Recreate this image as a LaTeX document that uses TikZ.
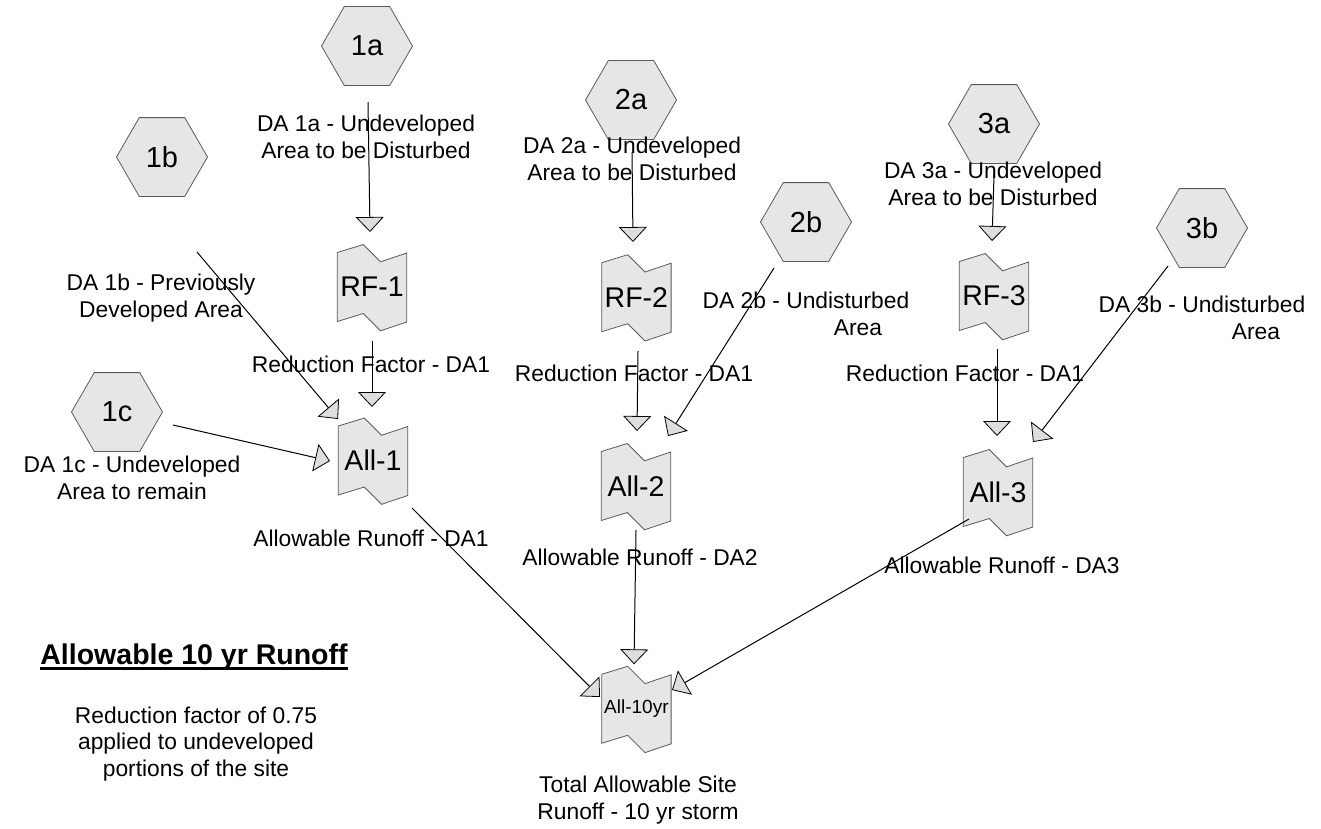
\documentclass[tikz,border=0pt]{standalone}
\usepackage{fontspec}
\setmainfont{Liberation Sans}
\usetikzlibrary{shapes.geometric,arrows.meta,calc}
\definecolor{shfill}{RGB}{230,230,230}
\definecolor{shline}{RGB}{90,90,90}
\definecolor{tipfill}{RGB}{222,222,222}
\tikzset{
 hex/.style={regular polygon, regular polygon sides=6, minimum size=91pt, inner sep=0pt, outer sep=0pt, draw=shline, fill=shfill, line width=0.8pt, font=\fontsize{29}{33}\selectfont},
 reachnode/.style={rectangle, minimum width=69.4pt, minimum height=69pt, inner sep=0pt, outer sep=0pt},
 reachshape/.style={draw=shline, fill=shfill, line width=0.8pt, line join=miter},
 bigtxt/.style={font=\fontsize{28.5}{32}\selectfont},
 smalltxt/.style={font=\fontsize{19}{22}\selectfont},
 lbl/.style={align=center, inner sep=0pt, font=\fontsize{22.8}{26.5}\selectfont},
 arr/.style={draw=black, line width=1pt, -{Triangle[length=15pt,width=28pt,fill=tipfill,line width=0.8pt]}},
}
\newcommand\reachat[5]{%
 \filldraw[reachshape,shift={(#2,#3)}] (-34.7,-34.5) -- (-8.7,-42.5) -- (8.6,-25.2) -- (34.7,-34) -- (34.7,35) -- (8.6,43.8) -- (-8.7,26.5) -- (-34.7,34.5) -- cycle;
 \node[reachnode,#4] (#1) at (#2,#3) {#5};
}
\begin{document}
\begin{tikzpicture}[x=1pt,y=-1pt]
\useasboundingbox (0,0) rectangle (1321,828);
% hexagons
\node[hex] (h1a) at (367,46) {1a};
\node[hex] (h1b) at (162,157) {1b};
\node[hex] (h1c) at (117,412) {1c};
\node[hex] (h2a) at (631,100) {2a};
\node[hex] (h2b) at (806,222) {2b};
\node[hex] (h3a) at (994,124) {3a};
\node[hex] (h3b) at (1202,228) {3b};
% reaches
\reachat{rf1}{372}{287}{bigtxt}{RF-1}
\reachat{all1}{373}{460.5}{bigtxt}{All-1}
\reachat{rf2}{636.4}{297.2}{bigtxt}{RF-2}
\reachat{all2}{636}{486}{bigtxt}{All-2}
\reachat{rf3}{994}{296}{bigtxt}{RF-3}
\reachat{all3}{998}{492}{bigtxt}{All-3}
\reachat{a10}{636.4}{708.8}{smalltxt}{All-10yr}
% labels
\node[lbl] (l1a) at (366,137) {DA 1a - Undeveloped\\Area to be Disturbed};
\node[lbl] (l1b) at (161,298) {DA 1b - Previously\\Developed Area};
\node[lbl] (l1c) at (132,478) {DA 1c - Undeveloped\\Area to remain};
\node[lbl] (lrf1) at (371,364) {Reduction Factor - DA1};
\node[lbl] (lall1) at (371,538) {Allowable Runoff - DA1};
\node[lbl] (l2a) at (632,159) {DA 2a - Undeveloped\\Area to be Disturbed};
\node[lbl] (l2b) at (806,314) {DA 2b - Undisturbed\\\hspace*{104pt}Area};
\node[lbl] (lrf2) at (634,373) {Reduction Factor - DA1};
\node[lbl] (lall2) at (640,557) {Allowable Runoff - DA2};
\node[lbl] (l3a) at (993,184) {DA 3a - Undeveloped\\Area to be Disturbed};
\node[lbl] (l3b) at (1202,318) {DA 3b - Undisturbed\\\hspace*{108pt}Area};
\node[lbl] (lrf3) at (965,373) {Reduction Factor - DA1};
\node[lbl] (lall3) at (1002,565) {Allowable Runoff - DA3};
\node[lbl] (l10) at (638,800) {Total Allowable Site\\Runoff - 10 yr storm};
\node[lbl] (note) at (196,744) {Reduction factor of 0.75\\applied to undeveloped\\portions of the site};
\node[inner sep=0pt,anchor=base,font=\bfseries\fontsize{28.5}{32}\selectfont] (title) at (194,664) {Allowable 10 yr Runoff};
\draw[line width=3pt] ($(title.base west)+(0,4.5)$) -- ($(title.base east)+(0,4.5)$);
% connectors
\draw[arr] ($(h1a)+(1,56)$) -- ($(rf1)+(-2,-55)$);
\draw[arr] ($(rf1)+(0,54)$) -- ($(all1)+(-1,-53.5)$);
\draw[arr] ($(h1b)+(35,95)$) -- ($(all1)+(-35,-41.5)$);
\draw[arr] ($(h1c)+(56,13)$) -- ($(all1)+(-43,0.5)$);
\draw[arr] ($(all1)+(39,47.5)$) -- ($(a10)+(-36.4,-11.8)$);
\draw[arr] ($(h2a)+(1,52)$) -- ($(rf2)+(-3.4,-55.2)$);
\draw[arr] ($(rf2)+(1.6,53.8)$) -- ($(all2)+(1,-55)$);
\draw[arr] ($(h2b)+(-32,46)$) -- ($(all2)+(32,-50)$);
\draw[arr] ($(all2)+(0,44)$) -- ($(a10)+(-2.4,-44.5)$);
\draw[arr] ($(h3a)+(0,51)$) -- ($(rf3)+(-2,-55)$);
\draw[arr] ($(rf3)+(3,53)$) -- ($(all3)+(-1,-56)$);
\draw[arr] ($(h3b)+(-34,38)$) -- ($(all3)+(35,-50)$);
\draw[arr] ($(all3)+(-29,27)$) -- ($(a10)+(35.6,-18.8)$);
\end{tikzpicture}
\end{document}
